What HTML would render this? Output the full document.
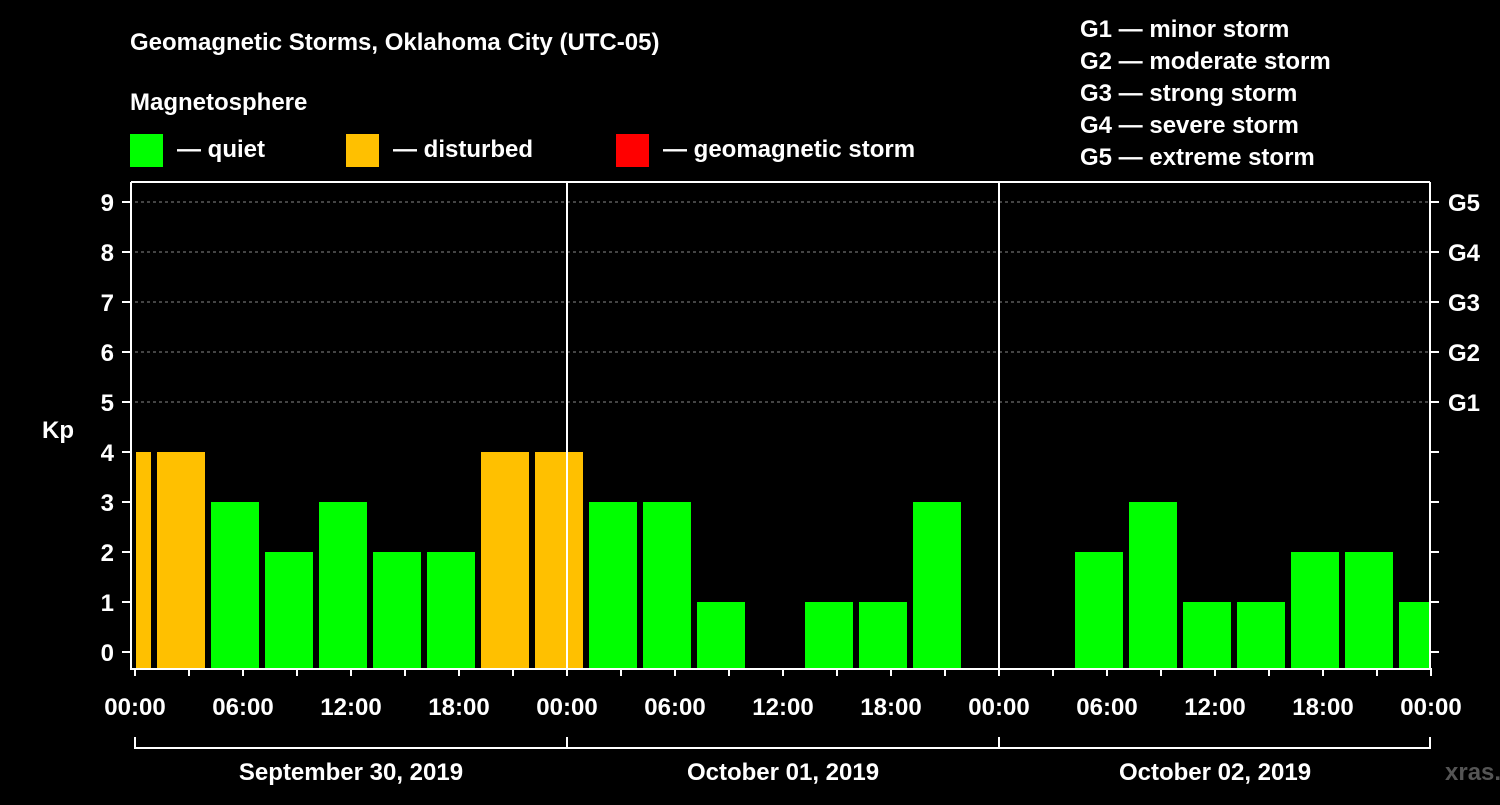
<!DOCTYPE html>
<html><head><meta charset="utf-8"><style>
body{margin:0;background:#000;width:1500px;height:800px;overflow:hidden}
svg text{font-family:"Liberation Sans",sans-serif;font-weight:bold;fill:#fff}
</style></head><body>
<svg width="1500" height="800" id="c">
<text x="130" y="50" font-size="24">Geomagnetic Storms, Oklahoma City (UTC-05)</text>
<text x="130" y="110" font-size="24">Magnetosphere</text>
<rect x="130" y="134" width="33" height="33" fill="#00ff00"/>
<text x="177" y="157" font-size="24">— quiet</text>
<rect x="346" y="134" width="33" height="33" fill="#ffc000"/>
<text x="393" y="157" font-size="24">— disturbed</text>
<rect x="616" y="134" width="33" height="33" fill="#ff0000"/>
<text x="663" y="157" font-size="24">— geomagnetic storm</text>
<g font-size="24">
<text x="1080" y="37">G1 — minor storm</text>
<text x="1080" y="69">G2 — moderate storm</text>
<text x="1080" y="101">G3 — strong storm</text>
<text x="1080" y="133">G4 — severe storm</text>
<text x="1080" y="165">G5 — extreme storm</text>
</g>
<text x="42" y="438" font-size="24">Kp</text>
<text x="1445" y="780" font-size="24" style="fill:#555">xras.ru</text>
<g id="plot"></g>
</svg>
<script>
const kpValues=[4,4,3,2,3,2,2,4,4,3,3,1,0,1,1,3,0,0,2,3,1,1,2,2,1];
const dayLabels=["September 30, 2019","October 01, 2019","October 02, 2019"];
const hourLabels=["00:00","06:00","12:00","18:00"];
const gLabels=["G1","G2","G3","G4","G5"];
const NS="http://www.w3.org/2000/svg";
const X0=135,PX_H=18,Y0=652,PX_K=50,BOT=668,RIGHT=1430,TOP=182;
const g=document.getElementById('plot');
function y(v){return Y0-v*PX_K}
function x(h){return X0+h*PX_H}
function mk(t,a){const e=document.createElementNS(NS,t);for(const k in a)e.setAttribute(k,a[k]);g.appendChild(e);return e}
// grid
for(let k=5;k<=9;k++){const l=mk('line',{x1:X0,x2:RIGHT,y1:y(k),y2:y(k),stroke:'#888','stroke-dasharray':'3,3'});

}
// bars
kpValues.forEach((v,i)=>{if(v<=0)return;
let s=x(-11/6+3*i)+1,e=s+48;s=Math.max(s,X0+1);e=Math.min(e,RIGHT);
const r=mk('rect',{x:s,y:y(v),width:e-s,height:BOT-y(v),fill:v>=5?'#ff0000':v>=4?'#ffc000':'#00ff00'});

});
// axes
const ax=mk('path',{d:`M131 ${TOP}V${BOT+1}H${RIGHT}V${TOP}M131 ${TOP}H${RIGHT}`,stroke:'#fff','stroke-width':2,fill:'none'});


for(let d=1;d<3;d++){const l=mk('line',{x1:x(24*d),x2:x(24*d),y1:TOP,y2:BOT,stroke:'#fff','stroke-width':2});

}
for(let k=0;k<=9;k++){mk('line',{x1:122,x2:131,y1:y(k),y2:y(k),stroke:'#fff','stroke-width':2});
mk('line',{x1:RIGHT,x2:RIGHT+9,y1:y(k),y2:y(k),stroke:'#fff','stroke-width':2});
const t=mk('text',{x:114,y:y(k)+9,'font-size':24,'text-anchor':'end'});t.textContent=k;

}
gLabels.forEach((s,i)=>{const t=mk('text',{x:1448,y:y(5+i)+9,'font-size':24});t.textContent=s;

});
for(let h=0;h<=72;h+=3){mk('line',{x1:x(h),x2:x(h),y1:BOT,y2:BOT+8,stroke:'#fff','stroke-width':2});}
for(let h=0;h<=72;h+=6){const t=mk('text',{x:x(h),y:715,'font-size':24,'text-anchor':'middle'});t.textContent=hourLabels[(h/6)%4];

}
const br=mk('path',{d:`M${X0} 737V748H${RIGHT}V737M${x(24)} 737V748M${x(48)} 737V748`,stroke:'#fff','stroke-width':2,fill:'none'});


dayLabels.forEach((s,i)=>{const t=mk('text',{x:x(24*i+12),y:780,'font-size':24,'text-anchor':'middle'});t.textContent=s;

});
</script>
</body></html>
